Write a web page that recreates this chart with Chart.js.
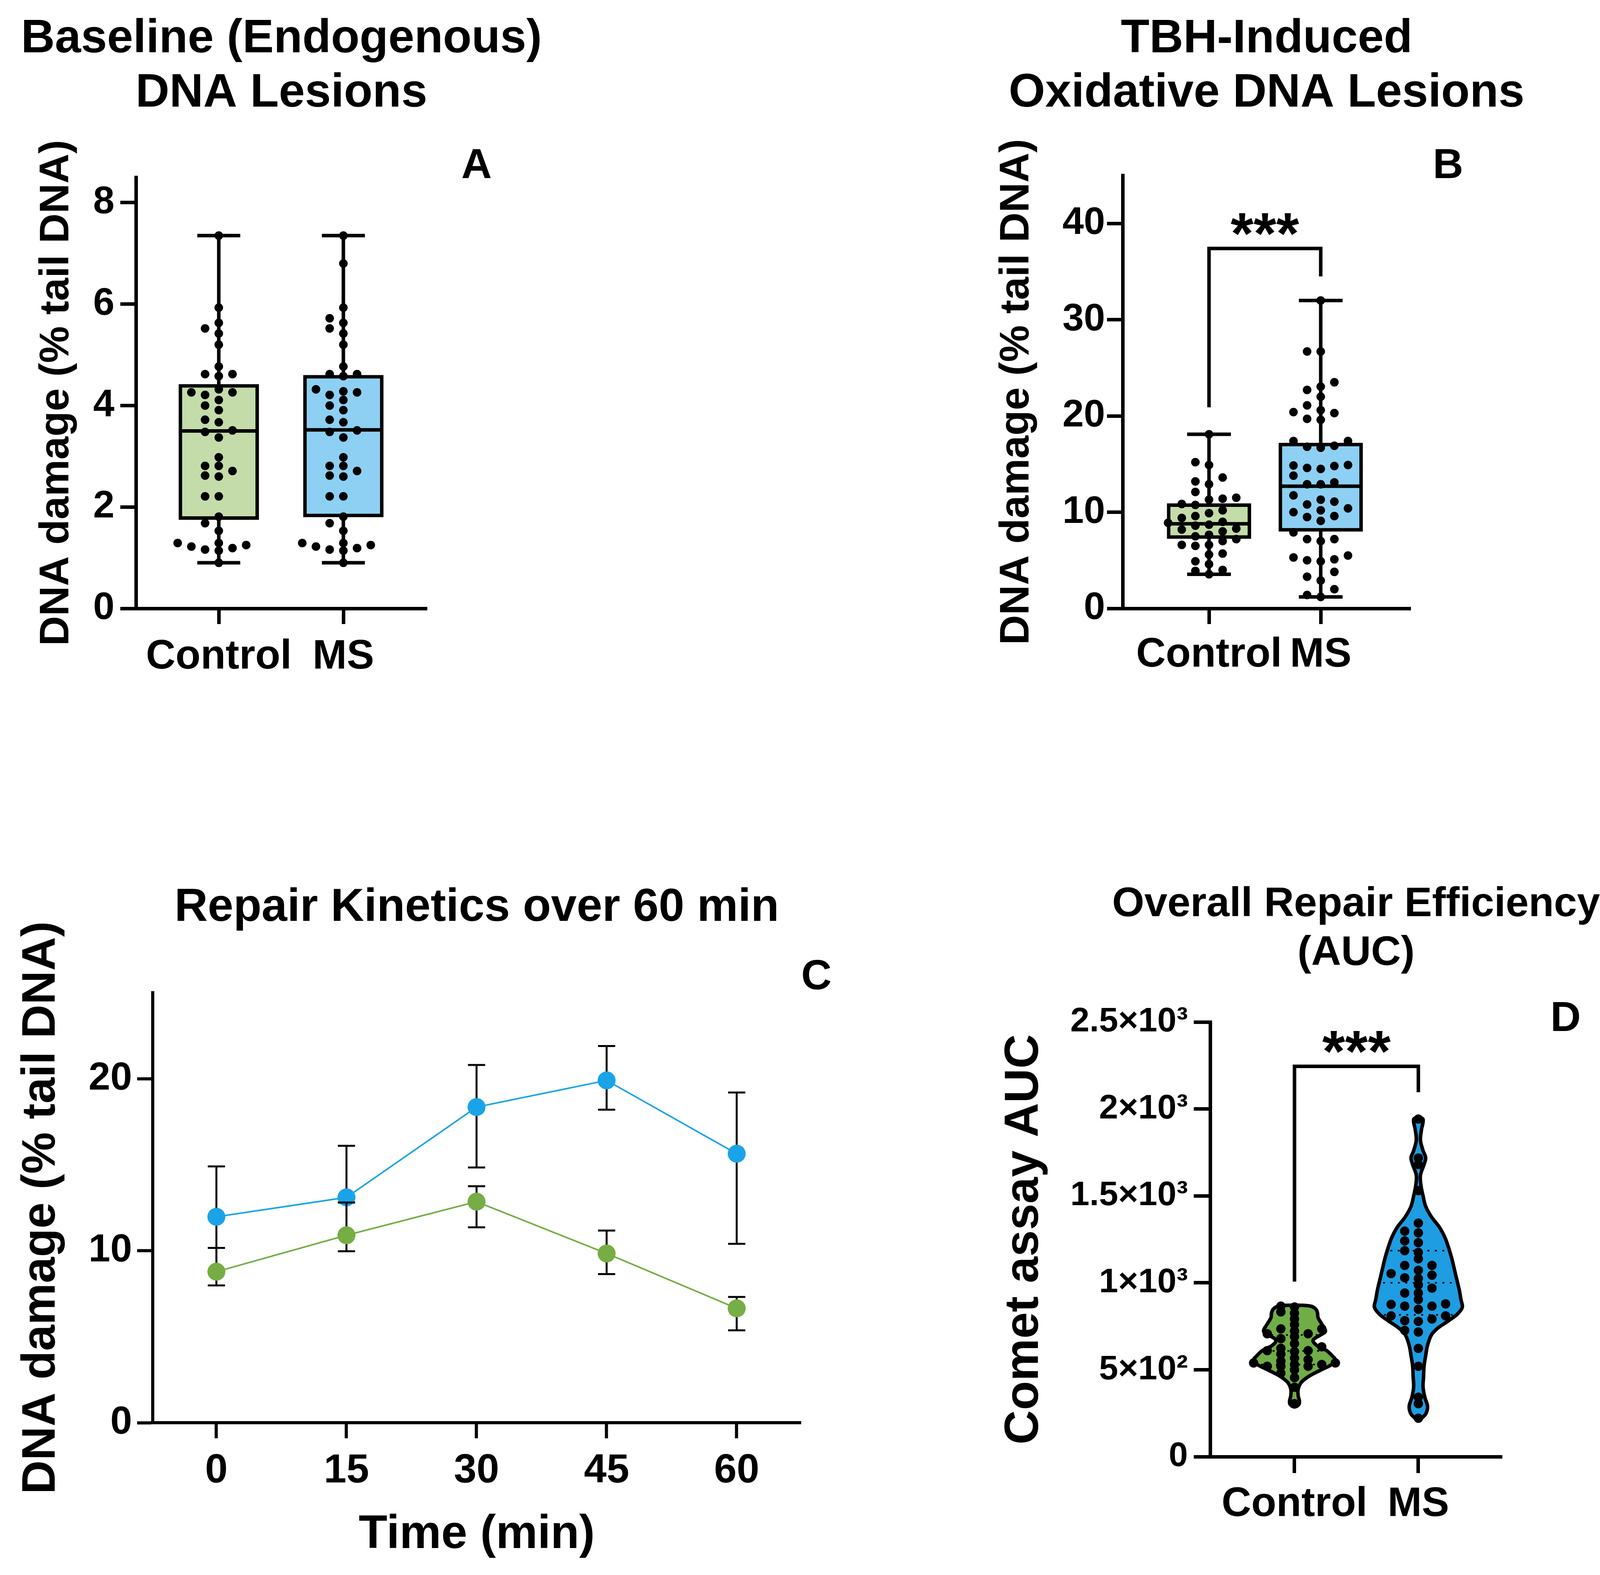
<!DOCTYPE html>
<html>
<head>
<meta charset="utf-8">
<script src="https://cdn.jsdelivr.net/npm/chart.js@4.4.1/dist/chart.umd.min.js"></script>
<style>
html,body{margin:0;padding:0;background:#fff;}
body{width:4155px;height:4033px;position:relative;overflow:hidden;}
canvas{position:absolute;}
</style>
</head>
<body>
<canvas id="chartA" width="1400" height="1800" style="left:0px;top:0px;width:1400px;height:1800px"></canvas>
<canvas id="chartB" width="1655" height="1800" style="left:2500px;top:0px;width:1655px;height:1800px"></canvas>
<canvas id="chartC" width="2150" height="1883" style="left:0px;top:2150px;width:2150px;height:1883px"></canvas>
<canvas id="chartD" width="1655" height="1883" style="left:2500px;top:2150px;width:1655px;height:1883px"></canvas>
<script>
const FONT = "'Liberation Sans', Arial, Helvetica, sans-serif";
const groupNames = ["Control", "MS"];

/* A - baseline lesions */
const yTicksA = [0, 2, 4, 6, 8];
const controlA = [7.35, 5.93, 5.63, 5.52, 5.42, 5.2, 4.77, 4.62, 4.58, 4.62, 4.26, 4.21, 4.26, 4.32, 4.11, 3.91, 4.0, 3.67, 3.72, 3.51, 3.37, 3.48, 2.98, 2.81, 2.81, 2.71, 2.6, 2.62, 2.21, 2.21, 1.81, 1.68, 1.53, 1.29, 1.25, 1.19, 1.14, 1.16, 1.22, 1.29, 0.9];
const msA = [7.35, 6.8, 5.93, 5.72, 5.63, 5.52, 5.42, 5.2, 4.77, 4.62, 4.58, 4.62, 4.28, 4.21, 4.26, 4.32, 4.11, 3.91, 4.0, 3.67, 3.72, 3.51, 3.37, 3.48, 2.98, 2.81, 2.81, 2.71, 2.6, 2.62, 2.21, 2.21, 1.81, 1.68, 1.53, 1.29, 1.25, 1.19, 1.14, 1.16, 1.22, 1.29, 0.9];
// min, q1, median, q3, max
const boxControlA = [0.9, 1.75, 3.5, 4.42, 7.35];
const boxMsA = [0.9, 1.8, 3.52, 4.6, 7.35];

/* B - TBH induced */
const yTicksB = [0, 10, 20, 30, 40];
const controlB = [18.1, 15.2, 14.9, 13.6, 13.2, 12.9, 12.1, 11.5, 11.4, 11.3, 10.85, 10.75, 10.2, 9.9, 9.6, 9.4, 9.0, 8.9, 8.7, 8.6, 8.3, 8.2, 8.0, 7.65, 7.5, 7.2, 7.0, 6.6, 6.6, 6.5, 5.7, 5.6, 4.9, 4.6, 4.0, 3.9, 3.55];
const msB = [32.0, 26.7, 26.7, 23.5, 23.05, 22.7, 22.0, 21.1, 20.6, 20.3, 20.4, 19.6, 19.7, 17.4, 17.4, 16.9, 16.7, 16.8, 14.9, 14.8, 14.85, 14.5, 14.6, 13.8, 13.1, 12.9, 12.9, 11.3, 11.75, 11.1, 10.4, 10.8, 10.0, 10.2, 9.5, 9.6, 9.1, 7.9, 7.2, 7.0, 7.2, 5.1, 4.9, 5.3, 5.5, 5.0, 3.8, 3.3, 2.9, 2.0, 1.4, 1.2];
const boxControlB = [3.55, 7.25, 8.8, 10.9, 18.1];
const boxMsB = [1.2, 8.0, 12.7, 17.2, 32.0];
const bracketB = [37.4, 20.9, 34.5]; // top, left end, right end
const starsB = 40.3;

/* C - repair kinetics */
const timePoints = [0, 15, 30, 45, 60];
const yTicksC = [0, 10, 20];
const msMean = [11.97, 13.1, 18.35, 19.9, 15.64];
const msLow = [10.16, 12.8, 14.84, 18.2, 10.4];
const msHigh = [14.9, 16.1, 20.8, 21.9, 19.2];
const controlMean = [8.78, 10.9, 12.85, 9.84, 6.65];
const controlLow = [7.98, 9.97, 11.36, 8.64, 5.37];
const controlHigh = [10.16, 12.8, 13.75, 11.17, 7.31];

/* D - AUC violins */
const yTicksD = [0, 500, 1000, 1500, 2000, 2500];
const yTickLabelsD = ["0", "5×10²", "1×10³", "1.5×10³", "2×10³", "2.5×10³"];
const aucControl = [866, 861, 833, 825, 792, 760, 735, 735, 722, 707, 707, 690, 679, 650, 632, 623, 610, 610, 604, 590, 567, 558, 550, 539, 539, 530, 530, 520, 520, 520, 500, 480, 455, 399, 305];
const aucMs = [1942, 1718, 1680, 1530, 1343, 1297, 1287, 1241, 1231, 1185, 1175, 1138, 1100, 1100, 1072, 1053, 1044, 1029, 1025, 988, 969, 941, 941, 904, 879, 876, 866, 866, 848, 810, 810, 792, 782, 778, 726, 717, 623, 520, 342, 305, 221];
const violinLevelsControl = [872, 866, 850, 829, 800, 763, 722, 700, 670, 640, 610, 576, 558, 530, 501, 464, 427, 389, 350, 320, 300, 286];
const violinWidthControl = [0, .13, .17, .185, .19, .22, .25, .21, .15, .18, .26, .31, .33, .3, .22, .12, .055, .03, .03, .04, .035, 0];
const violinLevelsMs = [1955, 1940, 1880, 1820, 1760, 1720, 1680, 1620, 1560, 1500, 1440, 1380, 1320, 1260, 1200, 1140, 1080, 1020, 960, 900, 860, 820, 780, 740, 700, 640, 580, 520, 460, 400, 340, 290, 250, 225, 215];
const violinWidthMs = [0, .038, .025, .017, .038, .059, .046, .017, .021, .038, .059, .105, .17, .215, .245, .27, .29, .31, .33, .345, .355, .315, .24, .158, .105, .074, .059, .046, .042, .038, .053, .074, .063, .032, 0];
const quartControl = [530, 608, 700];
const quartMs = [816, 1000, 1185];
const bracketD = [2245, 1007, 2096];
const starsD = 2406;


// spreads equal-ish values sideways like a dot plot
function swarm(values, center, step, minGap){
    let placed = [];
    let sorted = values.slice().sort((a, b) => a - b);
    for(let v of sorted){
        let k = 0;
        for(let i = 0; i < 40; i++){
            k = i == 0 ? 0 : (i % 2 ? -Math.ceil(i / 2) : i / 2);
            let clash = placed.some(p => p.k == k && Math.abs(p.y - v) < minGap);
            if(!clash) break;
        }
        placed.push({k: k, y: v});
    }
    return placed.map(p => ({x: center + p.k * step, y: p.y}));
}

function violinOutline(levels, widths, center){
    let pts = [];
    for(let i = 0; i < levels.length; i++){
        pts.push({x: center + widths[i], y: levels[i]});
    }
    for(let i = levels.length - 2; i > 0; i--){
        pts.push({x: center - widths[i], y: levels[i]});
    }
    pts.push({x: center + widths[0], y: levels[0]});
    return pts;
}

function widthAt(levels, widths, v){
    for(let i = 0; i < levels.length - 1; i++){
        if(v <= levels[i] && v >= levels[i + 1]){
            let t = (levels[i] - v) / (levels[i] - levels[i + 1]);
            return widths[i] + t * (widths[i + 1] - widths[i]);
        }
    }
    return 0;
}

function boldFont(size, lh){
    return {family: FONT, size: size, weight: 'bold', lineHeight: lh || 1.2};
}

function axisLines(w, len){
    return {
        grid: {display: true, offset: false, drawOnChartArea: false, drawTicks: true, tickLength: len, tickWidth: w, tickColor: '#000', color: '#000'},
        border: {display: true, color: '#000', width: w}
    };
}

/* plugins */
const boxWhiskers = {
    id: 'boxWhiskers',
    afterDatasetDraw(chart, args, opts){
        if(!opts.stats || args.index !== 1) return;
        let ctx = chart.ctx, xs = chart.scales.x, ys = chart.scales.y;
        ctx.save();
        ctx.strokeStyle = '#000';
        ctx.lineWidth = opts.lineWidth;
        opts.stats.forEach((s, i) => {
            let cx = xs.getPixelForValue(i + 1);
            let yMin = ys.getPixelForValue(s[0]), yQ1 = ys.getPixelForValue(s[1]);
            let yMed = ys.getPixelForValue(s[2]), yQ3 = ys.getPixelForValue(s[3]);
            let yMax = ys.getPixelForValue(s[4]);
            ctx.beginPath();
            ctx.moveTo(cx, yMax); ctx.lineTo(cx, yQ3);
            ctx.moveTo(cx, yQ1); ctx.lineTo(cx, yMin);
            ctx.moveTo(cx - opts.cap, yMax); ctx.lineTo(cx + opts.cap, yMax);
            ctx.moveTo(cx - opts.cap, yMin); ctx.lineTo(cx + opts.cap, yMin);
            ctx.moveTo(cx - opts.box, yMed); ctx.lineTo(cx + opts.box, yMed);
            ctx.stroke();
        });
        ctx.restore();
    }
};

const errorBars = {
    id: 'errorBars',
    beforeDatasetDraw(chart, args, opts){
        let ds = chart.data.datasets[args.index];
        if(!ds.errLow) return;
        let ctx = chart.ctx, xs = chart.scales.x, ys = chart.scales.y;
        ctx.save();
        ctx.strokeStyle = '#000';
        ctx.lineWidth = opts.lineWidth;
        ds.data.forEach((p, i) => {
            let cx = xs.getPixelForValue(p.x);
            let yl = ys.getPixelForValue(ds.errLow[i]);
            let yh = ys.getPixelForValue(ds.errHigh[i]);
            ctx.beginPath();
            ctx.moveTo(cx, yl); ctx.lineTo(cx, yh);
            ctx.moveTo(cx - opts.cap, yl); ctx.lineTo(cx + opts.cap, yl);
            ctx.moveTo(cx - opts.cap, yh); ctx.lineTo(cx + opts.cap, yh);
            ctx.stroke();
        });
        ctx.restore();
    }
};

const violinLines = {
    id: 'violinLines',
    afterDatasetDraw(chart, args, opts){
        let ds = chart.data.datasets[args.index];
        if(!ds.quartiles) return;
        let ctx = chart.ctx, xs = chart.scales.x, ys = chart.scales.y;
        ctx.save();
        ctx.strokeStyle = '#000';
        ctx.lineWidth = 4;
        ctx.setLineDash([5, 14]);
        for(let q of ds.quartiles){
            let w = widthAt(ds.levels, ds.widths, q) * 0.9;
            let y = ys.getPixelForValue(q);
            ctx.beginPath();
            ctx.moveTo(xs.getPixelForValue(ds.center - w), y);
            ctx.lineTo(xs.getPixelForValue(ds.center + w), y);
            ctx.stroke();
        }
        ctx.restore();
    }
};

const sigBracket = {
    id: 'sigBracket',
    afterDraw(chart, args, opts){
        if(!opts.lines) return;
        let ctx = chart.ctx, xs = chart.scales.x, ys = chart.scales.y;
        let x1 = xs.getPixelForValue(1), x2 = xs.getPixelForValue(2);
        ctx.save();
        ctx.strokeStyle = '#000';
        ctx.lineWidth = opts.lineWidth;
        ctx.lineJoin = 'miter';
        ctx.beginPath();
        ctx.moveTo(x1, ys.getPixelForValue(opts.lines[1]));
        ctx.lineTo(x1, ys.getPixelForValue(opts.lines[0]));
        ctx.lineTo(x2, ys.getPixelForValue(opts.lines[0]));
        ctx.lineTo(x2, ys.getPixelForValue(opts.lines[2]));
        ctx.stroke();
        ctx.fillStyle = '#000';
        ctx.font = 'bold ' + opts.size + 'px ' + FONT;
        ctx.textAlign = 'center';
        ctx.textBaseline = 'alphabetic';
        ctx.fillText('***', (x1 + x2) / 2, ys.getPixelForValue(opts.stars) + 0.57 * opts.size);
        ctx.restore();
    }
};

// chart heading (centred over the plot area, never squeezed) and panel letter
const panelText = {
    id: 'panelText',
    afterDraw(chart, args, opts){
        let ctx = chart.ctx, area = chart.chartArea;
        let cx = (area.left + area.right) / 2;
        ctx.save();
        ctx.fillStyle = '#000';
        ctx.textAlign = 'center';
        ctx.textBaseline = 'middle';
        ctx.font = 'bold ' + opts.titleSize + 'px ' + FONT;
        opts.title.forEach((t, i) => ctx.fillText(t, cx, opts.titleY[i]));
        ctx.font = 'bold ' + opts.letterSize + 'px ' + FONT;
        ctx.fillText(opts.letter, opts.letterX, opts.letterY);
        ctx.restore();
    }
};

const basics = {
    responsive: false,
    devicePixelRatio: 1,
    animation: false,
    events: []
};

/* ---------- A ---------- */
new Chart(document.getElementById('chartA'), {
    type: 'scatter',
    data: {
        datasets: [
            {
                data: swarm(controlA, 1, 0.11, 0.15).concat(swarm(msA, 2, 0.11, 0.15)),
                pointRadius: 11, pointBackgroundColor: '#000', pointBorderWidth: 0
            },
            {
                type: 'bar',
                data: [{x: 1, y: [boxControlA[1], boxControlA[3]]}, {x: 2, y: [boxMsA[1], boxMsA[3]]}],
                backgroundColor: ['#C4DCA9', '#8DD0F3'],
                borderColor: '#000', borderWidth: 9, borderSkipped: false, barThickness: 205
            }
        ]
    },
    options: Object.assign({}, basics, {
        layout: {padding: {left: 0, right: 307, top: 454, bottom: 0}},
        plugins: {
            legend: {display: false},
            tooltip: {enabled: false},
            title: {display: false},
            boxWhiskers: {stats: [boxControlA, boxMsA], lineWidth: 9, cap: 55, box: 102},
            panelText: {title: ['Baseline (Endogenous)', 'DNA Lesions'], titleY: [101, 240], titleSize: 120,
                letter: 'A', letterX: 1220, letterY: 426, letterSize: 108}
        },
        scales: {
            x: Object.assign({
                type: 'linear', min: 0.335, max: 2.671, offset: false,
                afterBuildTicks: s => { s.ticks = [{value: 1}, {value: 2}]; },
                afterFit: s => { s.height = 242; },
                ticks: {callback: v => groupNames[v - 1], color: '#000', font: boldFont(105), padding: 22, maxRotation: 0, autoSkip: false}
            }, axisLines(9, 40)),
            y: Object.assign({
                min: 0, max: 8.5,
                afterBuildTicks: s => { s.ticks = yTicksA.map(v => ({value: v})); },
                afterFit: s => { s.width = 348; },
                ticks: {color: '#000', font: boldFont(98), padding: 15},
                title: {display: true, text: 'DNA damage (% tail DNA)', color: '#000', font: boldFont(106), padding: {top: 82, bottom: 0}}
            }, axisLines(9, 40))
        }
    }),
    plugins: [boxWhiskers, panelText]
});

/* ---------- B ---------- */
new Chart(document.getElementById('chartB'), {
    type: 'scatter',
    data: {
        datasets: [
            {
                data: swarm(controlB, 1, 0.122, 0.95).concat(swarm(msB, 2, 0.122, 0.95)),
                pointRadius: 11, pointBackgroundColor: '#000', pointBorderWidth: 0
            },
            {
                type: 'bar',
                data: [{x: 1, y: [boxControlB[1], boxControlB[3]]}, {x: 2, y: [boxMsB[1], boxMsB[3]]}],
                backgroundColor: ['#C4DCA9', '#8DD0F3'],
                borderColor: '#000', borderWidth: 9, borderSkipped: false, barThickness: 215
            }
        ]
    },
    options: Object.assign({}, basics, {
        layout: {padding: {left: 0, right: 544, top: 449, bottom: 0}},
        plugins: {
            legend: {display: false},
            tooltip: {enabled: false},
            title: {display: false},
            boxWhiskers: {stats: [boxControlB, boxMsB], lineWidth: 9, cap: 56, box: 107},
            sigBracket: {lines: bracketB, stars: starsB, size: 150, lineWidth: 9},
            panelText: {title: ['TBH-Induced', 'Oxidative DNA Lesions'], titleY: [101, 240], titleSize: 120,
                letter: 'B', letterX: 1207, letterY: 426, letterSize: 108}
        },
        scales: {
            x: Object.assign({
                type: 'linear', min: 0.227, max: 2.804, offset: false,
                afterBuildTicks: s => { s.ticks = [{value: 1}, {value: 2}]; },
                afterFit: s => { s.height = 242; },
                ticks: {callback: v => groupNames[v - 1], color: '#000', font: boldFont(105), padding: 17, maxRotation: 0, autoSkip: false}
            }, axisLines(9, 40)),
            y: Object.assign({
                min: 0, max: 45,
                afterBuildTicks: s => { s.ticks = yTicksB.map(v => ({value: v})); },
                afterFit: s => { s.width = 374; },
                ticks: {color: '#000', font: boldFont(98), padding: 5},
                title: {display: true, text: 'DNA damage (% tail DNA)', color: '#000', font: boldFont(106), padding: {top: 40, bottom: 0}}
            }, axisLines(9, 40))
        }
    }),
    plugins: [boxWhiskers, sigBracket, panelText]
});

/* ---------- C ---------- */
new Chart(document.getElementById('chartC'), {
    type: 'scatter',
    data: {
        datasets: [
            {
                data: timePoints.map((t, i) => ({x: t, y: controlMean[i]})),
                errLow: controlLow, errHigh: controlHigh,
                showLine: true, borderColor: '#76AD45', borderWidth: 4,
                pointRadius: 23, pointBackgroundColor: '#76AD45', pointBorderWidth: 0
            },
            {
                data: timePoints.map((t, i) => ({x: t, y: msMean[i]})),
                errLow: msLow, errHigh: msHigh,
                showLine: true, borderColor: '#1BA3E8', borderWidth: 4,
                pointRadius: 23, pointBackgroundColor: '#1BA3E8', pointBorderWidth: 0
            }
        ]
    },
    options: Object.assign({}, basics, {
        layout: {padding: {left: 0, right: 100, top: 392, bottom: 0}},
        plugins: {
            legend: {display: false},
            tooltip: {enabled: false},
            title: {display: false},
            errorBars: {lineWidth: 5, cap: 22},
            panelText: {title: ['Repair Kinetics over 60 min'], titleY: [175], titleSize: 118,
                letter: 'C', letterX: 2090, letterY: 353, letterSize: 108}
        },
        scales: {
            x: Object.assign({
                type: 'linear', min: -7.34, max: 67.39,
                afterBuildTicks: s => { s.ticks = timePoints.map(v => ({value: v})); },
                afterFit: s => { s.height = 390; },
                ticks: {color: '#000', font: boldFont(104), padding: 22, maxRotation: 0, autoSkip: false},
                title: {display: true, text: 'Time (min)', color: '#000', font: boldFont(120), padding: {top: 0, bottom: 30}}
            }, axisLines(8, 40)),
            y: Object.assign({
                min: 0, max: 25,
                afterBuildTicks: s => { s.ticks = yTicksC.map(v => ({value: v})); },
                afterFit: s => { s.width = 391; },
                ticks: {color: '#000', font: boldFont(100), padding: 13},
                title: {display: true, text: 'DNA damage (% tail DNA)', color: '#000', font: boldFont(120), padding: {top: 35, bottom: 0}}
            }, axisLines(8, 40))
        }
    }),
    plugins: [errorBars, panelText]
});

/* ---------- D ---------- */
new Chart(document.getElementById('chartD'), {
    type: 'scatter',
    data: {
        datasets: [
            {
                data: swarm(aucControl, 1, 0.11, 30).concat(swarm(aucMs, 2, 0.11, 34)),
                pointRadius: 12, pointBackgroundColor: '#000', pointBorderWidth: 0
            },
            {
                data: violinOutline(violinLevelsControl, violinWidthControl, 1),
                levels: violinLevelsControl, widths: violinWidthControl, center: 1, quartiles: quartControl,
                showLine: true, fill: 'shape', tension: 0.35,
                backgroundColor: '#70AD47', borderColor: '#000', borderWidth: 9, pointRadius: 0
            },
            {
                data: violinOutline(violinLevelsMs, violinWidthMs, 2),
                levels: violinLevelsMs, widths: violinWidthMs, center: 2, quartiles: quartMs,
                showLine: true, fill: 'shape', tension: 0.35,
                backgroundColor: '#1E9DE3', borderColor: '#000', borderWidth: 9, pointRadius: 0
            }
        ]
    },
    options: Object.assign({}, basics, {
        layout: {padding: {left: 0, right: 310, top: 467, bottom: 0}},
        plugins: {
            legend: {display: false},
            tooltip: {enabled: false},
            title: {display: false},
            sigBracket: {lines: bracketD, stars: starsD, size: 150, lineWidth: 9},
            panelText: {title: ['Overall Repair Efficiency', '(AUC)'], titleY: [167, 292], titleSize: 106,
                letter: 'D', letterX: 1508, letterY: 460, letterSize: 108}
        },
        scales: {
            x: Object.assign({
                type: 'linear', min: 0.319, max: 2.675, offset: false,
                afterBuildTicks: s => { s.ticks = [{value: 1}, {value: 2}]; },
                afterFit: s => { s.height = 303; },
                ticks: {callback: v => groupNames[v - 1], color: '#000', font: boldFont(105), padding: 18, maxRotation: 0, autoSkip: false}
            }, axisLines(9, 42)),
            y: Object.assign({
                min: 0, max: 2500,
                afterBuildTicks: s => { s.ticks = yTicksD.map(v => ({value: v})); },
                afterFit: s => { s.width = 598; },
                ticks: {color: '#000', font: boldFont(88), padding: 15, callback: (v, i) => yTickLabelsD[i]},
                title: {display: true, text: 'Comet assay AUC', color: '#000', font: boldFont(122), padding: {top: 50, bottom: 0}}
            }, axisLines(9, 42))
        }
    }),
    plugins: [violinLines, sigBracket, panelText]
});
</script>
</body>
</html>
